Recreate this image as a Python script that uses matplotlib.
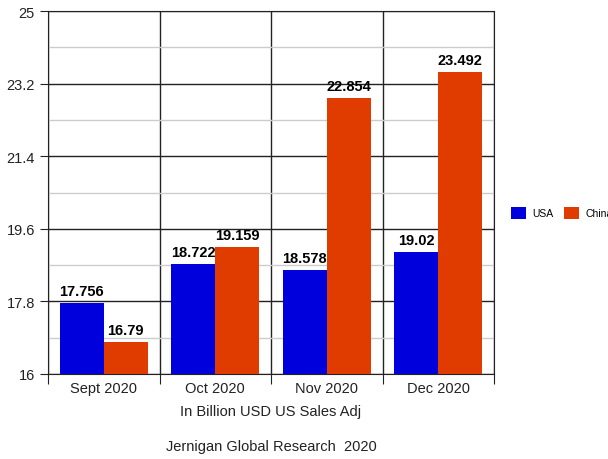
import matplotlib.pyplot as plt
import numpy as np
from matplotlib.ticker import FixedLocator

plt.rcParams['font.family'] = ['Liberation Sans', 'DejaVu Sans']

months = ['Sept 2020', 'Oct 2020', 'Nov 2020', 'Dec 2020']
usa = [17.756, 18.722, 18.578, 19.02]
china = [16.79, 19.159, 22.854, 23.492]
y_ticks = [16, 17.8, 19.6, 21.4, 23.2, 25]

fig = plt.figure(figsize=(6.08, 4.60), dpi=100)
ax = fig.add_axes([48 / 608, 85 / 460, 446 / 608, 363 / 460])

x = np.arange(len(months))
w = 0.395
b1 = ax.bar(x - w / 2, np.array(usa) - 16, w, bottom=16, color='#0000dd', label='USA', zorder=3)
b2 = ax.bar(x + w / 2, np.array(china) - 16, w, bottom=16, color='#e03c00', label='China', zorder=3)

for bars, vals in ((b1, usa), (b2, china)):
    for r, v in zip(bars, vals):
        ax.text(r.get_x() + r.get_width() / 2, v + 0.12, f'{v:g}',
                ha='center', va='bottom', fontsize=10.5, fontweight='bold', zorder=4)

ax.set_xlim(-0.5, 3.5)
ax.set_ylim(16, 25)
ax.set_yticks(y_ticks)
ax.set_yticklabels([f'{t:g}' for t in y_ticks])
# light lines halfway between the labelled ones
mids = [(a + b) / 2 for a, b in zip(y_ticks[:-1], y_ticks[1:])]
ax.yaxis.set_minor_locator(FixedLocator(mids))
ax.grid(axis='y', which='major', color='#222222', lw=1, zorder=1)
ax.grid(axis='y', which='minor', color='#cccccc', lw=1, zorder=1)

# category boundaries as vertical lines, labels centred in between
ax.set_xticks(np.arange(-0.5, 4, 1))
ax.set_xticklabels([])
ax.set_xticks(x, minor=True)
ax.set_xticklabels(months, minor=True)
ax.tick_params(axis='x', which='minor', length=0, labelsize=10.5, pad=5, labelcolor='#222222')
ax.tick_params(axis='x', which='major', length=7, color='#222222')
ax.grid(axis='x', which='major', color='#222222', lw=1, zorder=1)
ax.tick_params(axis='y', which='major', length=6, labelsize=10.5, labelcolor='#222222', color='#222222')
ax.tick_params(axis='y', which='minor', length=0)
for s in ax.spines.values():
    s.set_color('#222222')

cx = ax.get_position().x0 + ax.get_position().width / 2
fig.text(cx, 48 / 460, 'In Billion USD US Sales Adj',
         ha='center', va='center', fontsize=10.5, color='#222222')
fig.text(cx, 13 / 460, 'Jernigan Global Research  2020',
         ha='center', va='center', fontsize=10.5, color='#222222')

fig.legend(loc='center left', bbox_to_anchor=(502 / 608, 246 / 460), frameon=False,
           fontsize=7.5, ncol=2, handlelength=1.45, handleheight=1.45, columnspacing=1.0,
           handletextpad=0.6)

fig.savefig('out.png', dpi=100)
